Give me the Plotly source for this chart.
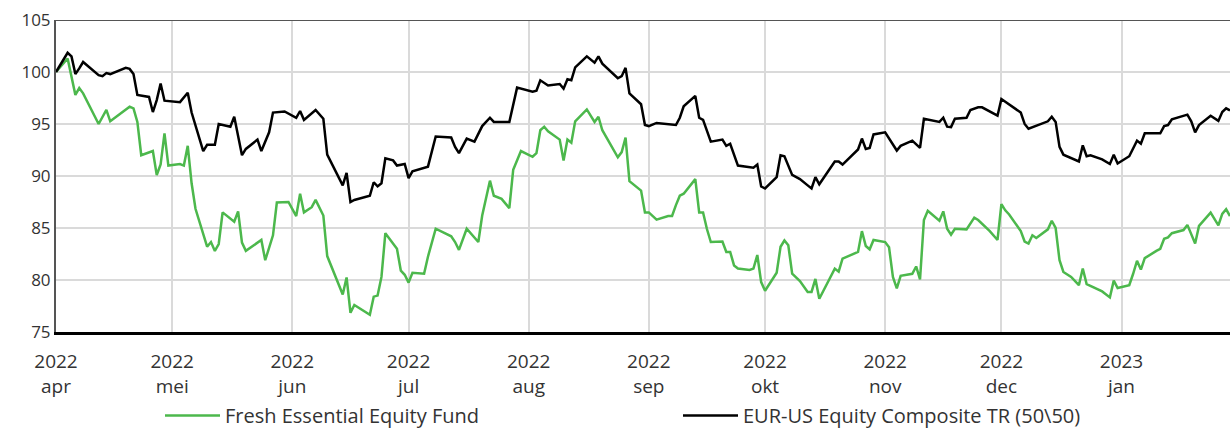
import plotly.graph_objects as go

# ---------------- data ----------------
bench_dates = [
    "2022-04-01", "2022-04-04", "2022-04-05", "2022-04-06", "2022-04-07", "2022-04-08",
    "2022-04-12", "2022-04-13", "2022-04-14", "2022-04-15", "2022-04-19", "2022-04-20",
    "2022-04-21", "2022-04-22", "2022-04-25", "2022-04-26", "2022-04-27", "2022-04-28",
    "2022-04-29", "2022-05-03", "2022-05-05", "2022-05-06", "2022-05-09", "2022-05-10",
    "2022-05-12", "2022-05-13", "2022-05-16", "2022-05-17", "2022-05-19", "2022-05-20",
    "2022-05-23", "2022-05-24", "2022-05-26", "2022-05-27", "2022-05-30", "2022-06-02",
    "2022-06-03", "2022-06-04", "2022-06-07", "2022-06-09", "2022-06-10", "2022-06-14",
    "2022-06-15", "2022-06-16", "2022-06-17", "2022-06-21", "2022-06-22", "2022-06-23",
    "2022-06-24", "2022-06-25", "2022-06-27", "2022-06-28", "2022-06-30", "2022-07-01",
    "2022-07-02", "2022-07-05", "2022-07-06", "2022-07-08", "2022-07-12", "2022-07-13",
    "2022-07-14", "2022-07-16", "2022-07-18", "2022-07-20", "2022-07-22", "2022-07-23",
    "2022-07-27", "2022-07-29", "2022-08-02", "2022-08-03", "2022-08-04", "2022-08-06",
    "2022-08-09", "2022-08-10", "2022-08-11", "2022-08-12", "2022-08-13", "2022-08-16",
    "2022-08-18", "2022-08-19", "2022-08-20", "2022-08-24", "2022-08-25", "2022-08-26",
    "2022-08-27", "2022-08-30", "2022-08-31", "2022-09-01", "2022-09-03", "2022-09-08",
    "2022-09-09", "2022-09-10", "2022-09-13", "2022-09-14", "2022-09-15", "2022-09-17",
    "2022-09-20", "2022-09-21", "2022-09-22", "2022-09-24", "2022-09-28", "2022-09-29",
    "2022-09-30", "2022-10-01", "2022-10-04", "2022-10-05", "2022-10-06", "2022-10-08",
    "2022-10-10", "2022-10-12", "2022-10-13", "2022-10-14", "2022-10-15", "2022-10-19",
    "2022-10-20", "2022-10-21", "2022-10-25", "2022-10-26", "2022-10-27", "2022-10-28",
    "2022-10-29", "2022-11-01", "2022-11-03", "2022-11-04", "2022-11-05", "2022-11-08",
    "2022-11-10", "2022-11-11", "2022-11-15", "2022-11-16", "2022-11-17", "2022-11-18",
    "2022-11-19", "2022-11-22", "2022-11-23", "2022-11-25", "2022-11-26", "2022-11-30",
    "2022-12-01", "2022-12-06", "2022-12-07", "2022-12-08", "2022-12-13", "2022-12-14",
    "2022-12-15", "2022-12-16", "2022-12-17", "2022-12-21", "2022-12-22", "2022-12-23",
    "2022-12-24", "2022-12-27", "2022-12-29", "2022-12-30", "2022-12-31", "2023-01-03",
    "2023-01-05", "2023-01-06", "2023-01-07", "2023-01-11", "2023-01-12", "2023-01-13",
    "2023-01-14", "2023-01-18", "2023-01-19", "2023-01-20", "2023-01-21", "2023-01-24",
    "2023-01-26", "2023-01-27", "2023-01-28", "2023-01-29",
]
bench_values = [
    100.0, 101.85, 101.5, 99.8, 100.35, 100.96,
    99.7, 99.6, 99.9, 99.8, 100.4, 100.3,
    99.8, 97.8, 97.6, 96.15, 97.3, 98.9,
    97.24, 97.1, 98.0, 96.1, 92.4, 93.0,
    93.0, 95.0, 94.74, 95.7, 92.0, 92.6,
    93.5, 92.4, 94.2, 96.1, 96.2, 95.6,
    96.25, 95.4, 96.35, 95.5, 92.05, 89.1,
    90.3, 87.5, 87.7, 88.1, 89.4, 89.0,
    89.3, 91.7, 91.5, 91.0, 91.15, 89.8,
    90.45, 90.8, 90.9, 93.8, 93.7, 92.8,
    92.2, 93.6, 93.3, 94.8, 95.6, 95.2,
    95.2, 98.5, 98.1, 98.2, 99.2, 98.7,
    98.85, 98.4, 99.3, 99.2, 100.45, 101.5,
    100.9, 101.5, 100.8, 99.4, 99.6, 100.4,
    97.95, 96.9, 94.9, 94.8, 95.1, 94.9,
    95.6, 96.7, 97.7, 95.6, 95.4, 93.3,
    93.5, 92.9, 93.1, 91.0, 90.8, 91.1,
    89.0, 88.8, 89.9, 92.0, 91.9, 90.1,
    89.7, 89.1, 88.8, 89.9, 89.2, 91.4,
    91.4, 91.1, 92.55, 93.6, 92.6, 92.7,
    94.0, 94.2, 93.1, 92.45, 92.9, 93.4,
    92.7, 95.5, 95.2, 95.6, 94.74, 94.7,
    95.5, 95.6, 96.35, 96.6, 96.6, 95.8,
    97.4, 96.1, 95.0, 94.55, 95.26, 95.7,
    95.2, 92.8, 92.05, 91.4, 92.95, 91.9,
    92.0, 91.6, 91.15, 92.05, 91.2, 91.9,
    93.4, 93.1, 94.1, 94.1, 94.8, 94.9,
    95.45, 95.9, 95.26, 94.2, 94.9, 95.8,
    95.3, 96.15, 96.5, 96.3,
]

fund_dates = [
    "2022-04-01", "2022-04-04", "2022-04-06", "2022-04-07", "2022-04-08", "2022-04-12",
    "2022-04-14", "2022-04-15", "2022-04-20", "2022-04-21", "2022-04-22", "2022-04-23",
    "2022-04-26", "2022-04-27", "2022-04-28", "2022-04-29", "2022-04-30", "2022-05-03",
    "2022-05-04", "2022-05-05", "2022-05-06", "2022-05-07", "2022-05-10", "2022-05-11",
    "2022-05-12", "2022-05-13", "2022-05-14", "2022-05-17", "2022-05-18", "2022-05-19",
    "2022-05-20", "2022-05-24", "2022-05-25", "2022-05-26", "2022-05-27", "2022-05-28",
    "2022-05-31", "2022-06-02", "2022-06-03", "2022-06-04", "2022-06-06", "2022-06-07",
    "2022-06-09", "2022-06-10", "2022-06-14", "2022-06-15", "2022-06-16", "2022-06-17",
    "2022-06-21", "2022-06-22", "2022-06-23", "2022-06-24", "2022-06-25", "2022-06-28",
    "2022-06-29", "2022-06-30", "2022-07-01", "2022-07-02", "2022-07-05", "2022-07-06",
    "2022-07-08", "2022-07-12", "2022-07-13", "2022-07-14", "2022-07-15", "2022-07-16",
    "2022-07-19", "2022-07-20", "2022-07-22", "2022-07-23", "2022-07-25", "2022-07-27",
    "2022-07-28", "2022-07-30", "2022-08-02", "2022-08-03", "2022-08-04", "2022-08-05",
    "2022-08-06", "2022-08-09", "2022-08-10", "2022-08-11", "2022-08-12", "2022-08-13",
    "2022-08-16", "2022-08-18", "2022-08-19", "2022-08-20", "2022-08-24", "2022-08-25",
    "2022-08-26", "2022-08-27", "2022-08-30", "2022-08-31", "2022-09-01", "2022-09-03",
    "2022-09-06", "2022-09-07", "2022-09-08", "2022-09-09", "2022-09-10", "2022-09-13",
    "2022-09-14", "2022-09-15", "2022-09-16", "2022-09-17", "2022-09-20", "2022-09-21",
    "2022-09-22", "2022-09-23", "2022-09-24", "2022-09-27", "2022-09-28", "2022-09-29",
    "2022-09-30", "2022-10-01", "2022-10-04", "2022-10-05", "2022-10-06", "2022-10-07",
    "2022-10-08", "2022-10-10", "2022-10-12", "2022-10-13", "2022-10-14", "2022-10-15",
    "2022-10-19", "2022-10-20", "2022-10-21", "2022-10-25", "2022-10-26", "2022-10-27",
    "2022-10-28", "2022-10-29", "2022-11-01", "2022-11-02", "2022-11-03", "2022-11-04",
    "2022-11-05", "2022-11-08", "2022-11-09", "2022-11-10", "2022-11-11", "2022-11-12",
    "2022-11-15", "2022-11-16", "2022-11-17", "2022-11-18", "2022-11-19", "2022-11-22",
    "2022-11-24", "2022-11-25", "2022-11-28", "2022-11-30", "2022-12-01", "2022-12-02",
    "2022-12-03", "2022-12-06", "2022-12-07", "2022-12-08", "2022-12-09", "2022-12-10",
    "2022-12-13", "2022-12-14", "2022-12-15", "2022-12-16", "2022-12-17", "2022-12-19",
    "2022-12-21", "2022-12-22", "2022-12-23", "2022-12-27", "2022-12-29", "2022-12-30",
    "2022-12-31", "2023-01-03", "2023-01-04", "2023-01-05", "2023-01-06", "2023-01-07",
    "2023-01-10", "2023-01-11", "2023-01-12", "2023-01-13", "2023-01-14", "2023-01-17",
    "2023-01-18", "2023-01-20", "2023-01-21", "2023-01-24", "2023-01-26", "2023-01-27",
    "2023-01-28", "2023-01-29",
]
fund_values = [
    100.0, 101.3, 97.8, 98.46, 97.95, 95.0,
    96.35, 95.26, 96.67, 96.5, 95.2, 92.0,
    92.4, 90.1, 91.1, 94.1, 91.0, 91.15,
    91.0, 92.9, 89.3, 86.85, 83.2, 83.65,
    82.8, 83.46, 86.5, 85.6, 86.6, 83.6,
    82.8, 83.85, 81.9, 83.0, 84.3, 87.45,
    87.5, 86.15, 88.3, 86.5, 87.0, 87.7,
    86.2, 82.3, 78.6, 80.25, 76.85, 77.6,
    76.65, 78.4, 78.5, 80.3, 84.5, 83.0,
    80.9, 80.5, 79.75, 80.7, 80.6, 82.24,
    84.93, 84.2, 83.65, 82.9, 83.85, 84.93,
    83.65, 86.2, 89.55, 88.1, 87.8, 86.9,
    90.6, 92.4, 91.85, 92.2, 94.4, 94.74,
    94.3, 93.5, 91.5, 93.5, 93.2, 95.26,
    96.4, 95.2, 95.7, 94.4, 91.8, 92.3,
    93.7, 89.5, 88.6, 86.5, 86.5, 85.8,
    86.15, 86.15, 87.2, 88.1, 88.3, 89.7,
    86.5, 86.5, 84.9, 83.65, 83.7, 82.7,
    82.7, 81.4, 81.1, 80.96, 81.1, 82.4,
    79.8, 78.97, 80.7, 83.2, 83.8, 83.34,
    80.6, 79.9, 78.85, 78.85, 80.1, 78.2,
    81.1, 80.8, 82.05, 82.7, 84.7, 83.27,
    82.95, 83.85, 83.65, 83.14, 80.3, 79.2,
    80.4, 80.6, 81.3, 80.06, 85.77, 86.66,
    85.7, 86.6, 84.93, 84.36, 84.93, 84.87,
    86.0, 85.77, 84.7, 83.85, 87.3, 86.7,
    86.3, 84.7, 83.7, 83.5, 84.3, 84.04,
    84.87, 85.7, 85.0, 81.9, 80.77, 80.3,
    79.5, 81.1, 79.6, 78.9, 78.33, 79.94,
    79.23, 79.5, 80.6, 81.85, 81.0, 82.1,
    82.8, 83.0, 83.97, 84.1, 84.5, 84.8,
    85.3, 83.5, 85.2, 86.47, 85.26, 86.35,
    86.8, 86.15,
]

month_ticks = ["2022-04-01", "2022-05-01", "2022-06-01", "2022-07-01", "2022-08-01",
               "2022-09-01", "2022-10-01", "2022-11-01", "2022-12-01", "2023-01-01"]
tick_years = ["2022", "2022", "2022", "2022", "2022", "2022", "2022", "2022", "2022", "2023"]
tick_months = ["apr", "mei", "jun", "jul", "aug", "sep", "okt", "nov", "dec", "jan"]

fund_name = "Fresh Essential Equity Fund"
bench_name = "EUR-US Equity Composite TR (50\\50)"

# ---------------- figure ----------------
FONT = "Open Sans"
fig = go.Figure()
fig.add_trace(go.Scatter(x=fund_dates, y=fund_values, mode="lines", name=fund_name,
                         line=dict(color="#4cb84c", width=2.5), cliponaxis=False))
fig.add_trace(go.Scatter(x=bench_dates, y=bench_values, mode="lines", name=bench_name,
                         line=dict(color="#000000", width=2.5), cliponaxis=False))

fig.update_layout(
    width=1230, height=430,
    margin=dict(l=56, r=0, t=20, b=98, autoexpand=False),
    paper_bgcolor="white", plot_bgcolor="white",
    font=dict(family=FONT, size=17, color="#333333"),
    showlegend=True,
    legend=dict(orientation="h", x=(160 - 56) / 1174, xanchor="left",
                y=-0.268, yanchor="middle",
                entrywidth=448, entrywidthmode="pixels", itemwidth=55,
                font=dict(family=FONT, size=20, color="#333333"),
                bgcolor="rgba(0,0,0,0)"),
    xaxis=dict(
        type="date", range=["2022-04-01", "2023-01-29"], automargin=False,
        tickmode="array", tickvals=month_ticks,
        ticktext=[f"{y}<br>{m}" for y, m in zip(tick_years, tick_months)],
        showgrid=True, gridcolor="#dadada", gridwidth=2,
        showline=True, linecolor="#000000", linewidth=3,
        ticks="", ticklabelstandoff=10, zeroline=False,
        tickfont=dict(family=FONT, size=19, color="#333333"),
    ),
    yaxis=dict(
        range=[75, 105], tickvals=[75, 80, 85, 90, 95, 100, 105], automargin=False,
        showgrid=True, gridcolor="#dadada", gridwidth=2,
        showline=True, linecolor="#555555", linewidth=2,
        ticks="", zeroline=False,
        tickfont=dict(family=FONT, size=17, color="#333333"),
    ),
    shapes=[dict(type="line", xref="paper", yref="y", x0=0, x1=1, y0=105, y1=105,
                 line=dict(color="#555555", width=2), layer="above")],
)

fig.write_html("out.html", config={"displayModeBar": False},
               post_script="document.body.style.margin='0';document.body.style.padding='0';")
